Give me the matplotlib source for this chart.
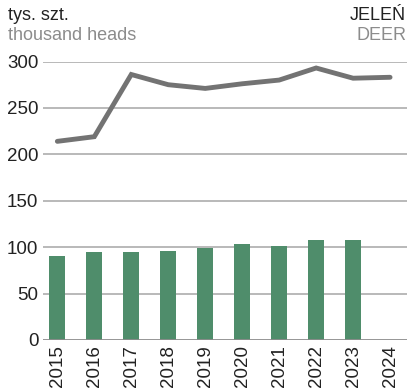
import matplotlib.pyplot as plt

plt.rcParams['font.family'] = ['Liberation Sans', 'DejaVu Sans']

# Data
years = ['2015', '2016', '2017', '2018', '2019', '2020', '2021', '2022', '2023', '2024']
line_values = [214, 219, 286, 275, 271, 276, 280, 293, 282, 283]
bar_values = [90.5, 94.5, 94.5, 95.5, 99, 103, 101, 107.5, 107.5]
y_ticks = [0, 50, 100, 150, 200, 250, 300]

fig = plt.figure(figsize=(4.09, 3.89), dpi=100)
ax = fig.add_axes([43.3 / 409, 1 - 340 / 389, (406.7 - 43.3) / 409, (340 - 61.5) / 389])

x = list(range(len(years)))

# Grid lines
for t in y_ticks[1:]:
    ax.axhline(t, color='#a6a6a6', linewidth=1.1, zorder=0)
ax.axhline(0, color='#8c8c8c', linewidth=2.0, zorder=3)

# Bars and line
ax.bar(x[:len(bar_values)], bar_values, width=0.43, color='#4f8d6b', zorder=2)
ax.plot(x, line_values, color='#737373', linewidth=3.5, solid_capstyle='round',
        solid_joinstyle='miter', zorder=4)

ax.set_xlim(-0.38, 9.45)
ax.set_ylim(0, 300)
ax.set_yticks(y_ticks)
ax.set_yticklabels([str(t) for t in y_ticks], fontsize=13.5, color='#222222')
ax.set_xticks(x)
ax.set_xticklabels(years, rotation=90, fontsize=13.5, color='#222222')
ax.tick_params(length=0, pad=3.5)
for s in ax.spines.values():
    s.set_visible(False)

# Header texts
fig.text(8 / 409, 1 - 15 / 389, 'tys. szt.', fontsize=13, color='#222222', va='center', ha='left')
fig.text(8 / 409, 1 - 36 / 389, 'thousand heads', fontsize=13, color='#8c8c8c', va='center', ha='left')
fig.text(406 / 409, 1 - 15 / 389, 'JELEŃ', fontsize=13, color='#222222', va='center', ha='right')
fig.text(406 / 409, 1 - 36 / 389, 'DEER', fontsize=13, color='#8c8c8c', va='center', ha='right')

fig.savefig('out.png', dpi=100)
